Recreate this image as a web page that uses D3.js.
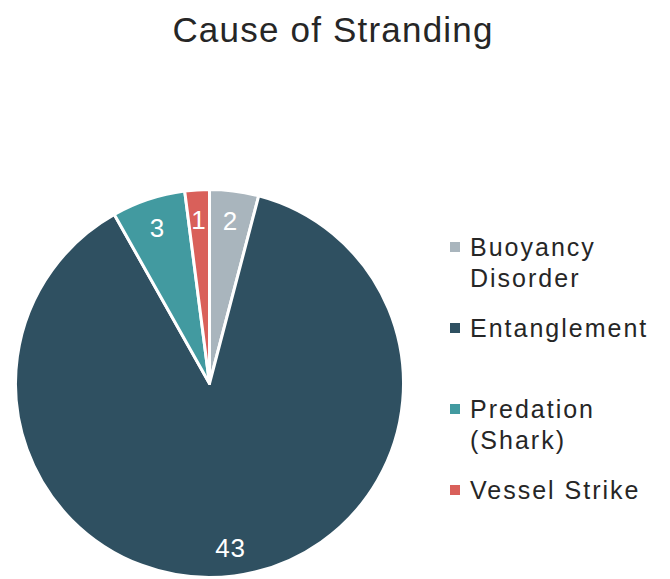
<!DOCTYPE html>
<html><head><meta charset="utf-8">
<script src="https://cdn.jsdelivr.net/npm/d3@7"></script>
<style>html,body{margin:0;padding:0;background:#fff;}svg{display:block;}</style>
</head><body>
<svg id="chart" width="670" height="579"></svg>
<script>
const categories = ["Buoyancy Disorder", "Entanglement", "Predation (Shark)", "Vessel Strike"];
const values = [2, 43, 3, 1];
const colors = ["#a9b5bd", "#2f5061", "#429aa0", "#d9605a"];
const legendLines = [["Buoyancy", "Disorder"], ["Entanglement"], ["Predation", "(Shark)"], ["Vessel Strike"]];

const svg = d3.select("#chart");
const font = "'Liberation Sans', Arial, sans-serif";
svg.append("text").attr("x", 333).attr("y", 42).attr("text-anchor", "middle")
  .attr("font-family", font).attr("font-size", 35).attr("letter-spacing", 1.2)
  .attr("fill", "#262626").text("Cause of Stranding");

const cx = 209.5, cy = 383.5, r = 194;
const pie = d3.pie().sort(null).value(d => d)(values);
const arc = d3.arc().innerRadius(0).outerRadius(r);
const labelArc = d3.arc().innerRadius(r * 0.85).outerRadius(r * 0.85);
const g = svg.append("g").attr("transform", `translate(${cx},${cy})`);
g.selectAll("path").data(pie).enter().append("path")
  .attr("d", arc).attr("fill", (d, i) => colors[i])
  .attr("stroke", "#fff").attr("stroke-width", 3).attr("stroke-linejoin", "round");
g.selectAll("text").data(pie).enter().append("text")
  .attr("transform", d => `translate(${labelArc.centroid(d)})`)
  .attr("text-anchor", "middle").attr("dy", "0.4em")
  .attr("font-family", font).attr("font-size", 26).attr("letter-spacing", 1)
  .attr("fill", "#fff")
  .text(d => d.data);

const legendY = [247, 328, 409, 490];
const lg = svg.append("g");
categories.forEach((c, i) => {
  lg.append("rect").attr("x", 450).attr("y", legendY[i] - 5).attr("width", 10).attr("height", 10).attr("fill", colors[i]);
  const t = lg.append("text").attr("x", 470).attr("y", legendY[i] + 9)
    .attr("font-family", font).attr("font-size", 25).attr("letter-spacing", 2)
    .attr("fill", "#262626");
  legendLines[i].forEach((l, j) => {
    t.append("tspan").attr("x", 470).attr("dy", j === 0 ? 0 : 31).text(l);
  });
});
</script>
</body></html>
